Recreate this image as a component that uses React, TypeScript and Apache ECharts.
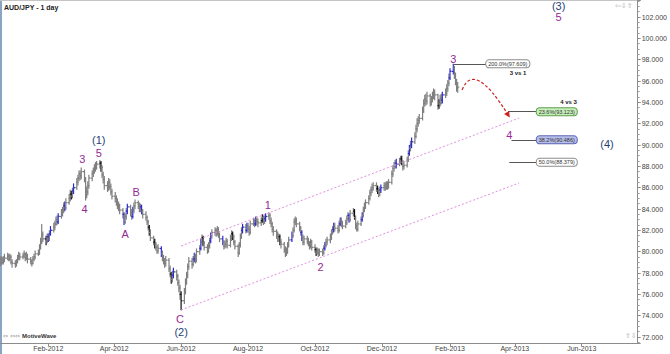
import React, { useEffect, useRef } from "react";
import * as echarts from "echarts";

// ---------- data ----------
const AXIS_START = "2011-12-19";
const AXIS_END = "2013-07-22";
const FIRST_BAR = "2011-12-19";
const FIRST_OPEN = 79.2;
const Y_MIN = 71.4375;
const Y_MAX = 103.594;

const closes = [
  78.9, 79.3, 79.0, 79.2, 79.4, 79.6, 79.3, 79.5, 79.0, 78.9,
  78.8, 79.0, 79.4, 79.6, 79.5, 79.6, 79.8, 79.4, 79.7, 79.3,
  79.1, 78.9, 79.3, 79.5, 79.8, 79.9, 80.4, 80.9, 81.6, 81.2,
  81.0, 81.4, 81.2, 81.7, 82.0, 82.3, 82.6, 83.0, 82.8, 83.3,
  83.6, 83.9, 84.3, 84.1, 84.6, 85.0, 85.4, 85.2, 85.7, 86.0,
  86.5, 86.9, 87.3, 87.1, 87.5, 86.8, 85.3, 85.6, 86.2, 86.9,
  87.3, 87.6, 87.8, 88.0, 88.2, 88.3, 87.9, 87.2, 86.8, 86.2,
  86.0, 86.5, 86.1, 85.6, 85.2, 85.0, 84.7, 84.4, 84.2, 83.9,
  83.5, 82.8, 83.3, 83.8, 84.2, 83.6, 83.3, 83.9, 84.3, 84.6,
  84.4, 84.0, 84.2, 83.8, 83.5, 83.2, 82.8, 82.3, 81.8, 81.3,
  80.9, 80.7, 80.4, 80.1, 80.3, 79.8, 79.4, 79.1, 78.9, 79.2,
  78.4, 77.9, 77.4, 77.8, 78.1, 77.7, 77.1, 76.6, 76.0, 75.4,
  76.3, 77.2, 77.8, 78.6, 79.1, 78.8, 79.3, 79.6, 79.2, 80.0,
  80.3, 80.9, 81.3, 80.8, 80.4, 80.1, 80.6, 81.0, 81.5, 81.8,
  82.0, 81.7, 82.1, 81.6, 81.2, 80.9, 80.5, 80.7, 81.0, 80.6,
  81.3, 81.7, 81.4, 80.9, 80.5, 79.9, 80.6, 81.4, 82.0, 82.3,
  82.0, 82.4, 82.1, 81.8, 82.6, 82.9, 82.6, 83.0, 82.8, 82.7,
  82.9, 83.2, 82.8, 83.1, 83.3, 83.4, 82.9, 82.6, 82.1, 81.9,
  81.6, 81.2, 81.4, 80.9, 80.7, 80.2, 79.8, 80.0, 80.6, 81.1,
  81.5, 82.0, 82.8, 83.0, 82.6, 82.2, 81.8, 81.3, 80.9, 81.2,
  81.0, 80.8, 80.5, 80.9, 80.4, 80.2, 79.9, 80.1, 79.8, 80.0,
  79.9, 80.3, 80.6, 80.9, 81.1, 81.3, 81.8, 82.1, 82.4, 82.2,
  82.0, 82.6, 82.9, 82.6, 82.4, 82.7, 83.1, 83.4, 83.0, 83.6,
  83.8, 83.2, 82.4, 82.1, 82.6, 83.0, 83.4, 83.9, 84.3, 84.6,
  85.0, 85.5, 85.8, 86.0, 86.2, 85.9, 85.7, 85.5, 85.8, 86.0,
  86.2, 86.0, 86.3, 86.1, 86.5, 87.3, 87.8, 88.0, 88.3, 88.2,
  88.5, 88.7, 88.4, 88.0, 88.1, 88.6, 89.2, 89.7, 90.0, 90.3,
  90.8, 91.5, 92.0, 92.3, 92.5, 93.2, 93.9, 94.3, 94.1, 94.6,
  94.0, 94.3, 94.6, 94.9, 94.7, 93.7, 93.9, 94.4, 94.2, 94.7,
  94.9, 95.3, 95.8, 96.3, 96.9, 97.2, 96.5, 95.9, 95.3, 95.415,
];

const highs = [
  79.5, 79.6, 79.5, 79.6, 79.8, 79.9, 79.8, 79.8, 79.7, 79.3,
  79.2, 79.3, 79.7, 80.0, 79.9, 79.9, 80.1, 79.9, 80.0, 79.8,
  79.5, 79.3, 79.6, 79.8, 80.1, 80.2, 80.7, 81.3, 82.6, 81.9,
  81.5, 81.7, 81.7, 82.0, 82.4, 82.7, 82.9, 83.3, 83.4, 83.6,
  84.0, 84.2, 84.6, 84.7, 85.0, 85.4, 85.8, 85.7, 86.0, 86.4,
  86.9, 87.2, 87.6, 87.6, 87.9, 87.7, 87.0, 86.1, 86.6, 87.2,
  87.6, 87.9, 88.2, 88.4, 88.5, 88.6, 88.5, 88.1, 87.5, 87.1,
  86.6, 86.9, 86.8, 86.4, 85.9, 85.6, 85.3, 85.0, 84.7, 84.5,
  84.1, 83.7, 83.6, 84.1, 84.5, 84.4, 84.0, 84.2, 84.6, 84.9,
  84.8, 84.6, 84.5, 84.4, 84.0, 83.8, 83.4, 83.0, 82.5, 82.1,
  81.5, 81.2, 80.9, 80.6, 80.7, 80.5, 80.1, 79.7, 79.4, 79.6,
  79.4, 78.7, 78.1, 78.2, 78.5, 78.3, 77.9, 77.4, 76.9, 76.3,
  76.6, 77.5, 78.1, 78.9, 79.5, 79.4, 79.6, 79.9, 79.8, 80.3,
  80.6, 81.2, 81.6, 81.5, 81.0, 80.7, 80.9, 81.3, 81.8, 82.1,
  82.3, 82.2, 82.4, 82.3, 81.8, 81.5, 81.1, 81.0, 81.3, 81.2,
  81.6, 82.0, 81.9, 81.6, 81.1, 80.7, 80.9, 81.7, 82.3, 82.6,
  82.6, 82.7, 82.7, 82.4, 82.9, 83.2, 83.1, 83.3, 83.3, 83.1,
  83.2, 83.5, 83.4, 83.4, 83.6, 83.7, 83.6, 83.2, 82.8, 82.4,
  82.1, 81.9, 81.7, 81.6, 81.2, 80.9, 80.5, 80.4, 80.9, 81.4,
  81.9, 82.3, 83.1, 83.3, 83.2, 82.8, 82.4, 82.0, 81.6, 81.5,
  81.5, 81.3, 81.0, 81.2, 81.1, 80.7, 80.4, 80.4, 80.3, 80.3,
  80.3, 80.6, 80.9, 81.2, 81.4, 81.7, 82.1, 82.4, 82.7, 82.7,
  82.5, 82.9, 83.2, 83.2, 82.9, 83.0, 83.4, 83.7, 83.6, 83.9,
  84.1, 84.0, 83.4, 82.7, 82.9, 83.3, 83.7, 84.2, 84.6, 84.9,
  85.3, 85.8, 86.1, 86.4, 86.5, 86.5, 86.2, 86.0, 86.1, 86.3,
  86.5, 86.5, 86.6, 86.6, 86.8, 87.6, 88.1, 88.4, 88.6, 88.7,
  88.8, 89.0, 89.0, 88.6, 88.5, 88.9, 89.5, 90.0, 90.4, 90.7,
  91.2, 91.9, 92.5, 92.7, 92.9, 93.6, 94.3, 94.7, 94.8, 95.0,
  94.8, 94.6, 95.0, 95.3, 95.2, 94.8, 94.3, 94.7, 94.8, 95.0,
  95.3, 95.7, 96.1, 96.7, 97.2, 97.609, 97.4, 96.8, 96.2, 95.9,
];

const lows = [
  78.6, 78.7, 78.8, 78.8, 79.0, 79.2, 79.1, 79.1, 78.8, 78.5,
  78.5, 78.6, 78.9, 79.2, 79.2, 79.3, 79.4, 79.1, 79.2, 78.9,
  78.8, 78.6, 78.8, 79.1, 79.3, 79.6, 79.7, 80.2, 80.7, 80.9,
  80.6, 80.8, 80.9, 81.0, 81.5, 81.8, 82.0, 82.4, 82.5, 82.6,
  83.1, 83.3, 83.6, 83.8, 83.9, 84.4, 84.7, 84.9, 85.0, 85.4,
  85.8, 86.2, 86.6, 86.7, 86.8, 86.5, 84.8, 85.0, 85.3, 85.9,
  86.6, 87.0, 87.3, 87.5, 87.7, 87.8, 87.5, 86.9, 86.4, 85.8,
  85.6, 85.7, 85.8, 85.3, 84.9, 84.6, 84.3, 84.0, 83.8, 83.5,
  83.1, 82.5, 82.6, 83.0, 83.5, 83.3, 83.0, 83.1, 83.6, 84.0,
  84.0, 83.7, 83.7, 83.5, 83.1, 82.9, 82.5, 82.0, 81.5, 81.0,
  80.6, 80.3, 80.1, 79.8, 79.8, 79.5, 79.1, 78.8, 78.5, 78.6,
  78.1, 77.6, 77.0, 77.1, 77.5, 77.3, 76.8, 76.2, 75.5, 74.5,
  75.1, 76.0, 76.9, 77.5, 78.3, 78.4, 78.6, 79.0, 78.9, 79.0,
  79.7, 80.1, 80.6, 80.5, 80.1, 79.8, 79.9, 80.3, 80.8, 81.2,
  81.5, 81.4, 81.5, 81.3, 80.9, 80.6, 80.2, 80.3, 80.4, 80.3,
  80.4, 81.0, 81.1, 80.6, 80.2, 79.5, 79.7, 80.4, 81.2, 81.7,
  81.7, 81.8, 81.8, 81.5, 81.6, 82.4, 82.3, 82.4, 82.5, 82.3,
  82.4, 82.7, 82.5, 82.6, 82.8, 83.0, 82.6, 82.3, 81.8, 81.5,
  81.2, 80.9, 80.9, 80.6, 80.3, 79.9, 79.5, 79.6, 79.8, 80.4,
  80.9, 81.3, 81.8, 82.5, 82.3, 81.9, 81.5, 81.0, 80.6, 80.6,
  80.7, 80.5, 80.2, 80.3, 80.1, 79.9, 79.6, 79.7, 79.5, 79.6,
  79.6, 79.7, 80.1, 80.4, 80.6, 80.8, 81.1, 81.6, 81.8, 81.9,
  81.7, 81.8, 82.4, 82.3, 82.1, 82.2, 82.5, 82.9, 82.7, 82.8,
  83.3, 83.0, 82.1, 81.9, 81.9, 82.4, 82.8, 83.2, 83.7, 84.0,
  84.4, 84.8, 85.2, 85.5, 85.7, 85.6, 85.4, 85.1, 85.2, 85.5,
  85.7, 85.7, 85.8, 85.8, 85.9, 86.3, 87.0, 87.5, 87.8, 87.8,
  88.0, 88.2, 88.1, 87.6, 87.7, 87.9, 88.4, 89.0, 89.4, 89.7,
  90.1, 90.6, 91.2, 91.7, 92.0, 92.3, 93.0, 93.6, 93.7, 93.8,
  93.6, 93.7, 94.0, 94.3, 94.2, 93.3, 93.4, 93.6, 93.8, 93.9,
  94.4, 94.6, 95.0, 95.5, 96.1, 96.6, 96.2, 95.6, 95.0, 94.9,
];

// bars shown in blue / black (index into the bar list)
const blueBars = [32, 34, 39, 43, 49, 81, 84, 87, 93, 105, 114, 127, 131, 138, 145, 159, 161, 167, 174, 190, 197, 212, 218, 222, 228, 236, 249, 259, 267, 269, 289, 294, 295];
const blackBars = [30, 47, 66, 98, 101, 112, 119, 133, 152, 171, 183, 206, 231, 246, 262, 286];

const waveLabels = [
  { date: "2012-03-18", price: 90.47, text: "(1)", degree: "intermediate" },
  { date: "2012-03-18", price: 89.25, text: "5", degree: "minor" },
  { date: "2012-03-03", price: 88.69, text: "3", degree: "minor" },
  { date: "2012-03-05", price: 84.0, text: "4", degree: "minor" },
  { date: "2012-04-11", price: 81.66, text: "A", degree: "minor" },
  { date: "2012-04-21", price: 85.6, text: "B", degree: "minor" },
  { date: "2012-05-31", price: 73.69, text: "C", degree: "minor" },
  { date: "2012-06-01", price: 72.47, text: "(2)", degree: "intermediate" },
  { date: "2012-08-19", price: 84.38, text: "1", degree: "minor" },
  { date: "2012-10-06", price: 78.56, text: "2", degree: "minor" },
  { date: "2013-02-04", price: 98.06, text: "3", degree: "minor" },
  { date: "2013-05-11", price: 103.03, text: "(3)", degree: "intermediate" },
  { date: "2013-05-11", price: 102.0, text: "5", degree: "minor" },
  { date: "2013-03-27", price: 90.94, text: "4", degree: "minor" },
  { date: "2013-06-24", price: 90.1, text: "(4)", degree: "intermediate" },
];

const noteLabels = [
  { date: "2013-04-04", price: 96.75, text: "3 vs 1" },
  { date: "2013-05-20", price: 94.03, text: "4 vs 3" },
];

const fibLevels = [
  { ratio: "200.0%", price: 97.609, from: "2013-02-04", to: "2013-03-06", kind: "plain" },
  { ratio: "23.6%", price: 93.123, from: "2013-03-26", to: "2013-04-21", kind: "green" },
  { ratio: "38.2%", price: 90.486, from: "2013-03-29", to: "2013-04-21", kind: "blue" },
  { ratio: "50.0%", price: 88.379, from: "2013-03-27", to: "2013-04-21", kind: "plain" },
];

const channelLines = [
  { from: { date: "2012-06-01", price: 80.53 }, to: { date: "2013-04-05", price: 92.53 } },
  { from: { date: "2012-06-01", price: 74.53 }, to: { date: "2013-04-05", price: 86.44 } },
];

const projectionArc = [
  { date: "2013-02-12", price: 95.16 },
  { date: "2013-02-23", price: 97.97 },
  { date: "2013-03-26", price: 92.81 },
];

const priceMarkers = [
  { price: 96.472, kind: "blue" },
  { price: 95.415, kind: "red" },
];

// ---------- helpers ----------
const FONT = '"Liberation Sans", Arial, sans-serif';
const MONTHS = ["Jan", "Feb", "Mar", "Apr", "May", "Jun", "Jul", "Aug", "Sep", "Oct", "Nov", "Dec"];
const DAY_MS = 86400000;
const parseDay = (s: string) => {
  const [y, m, d] = s.split("-").map(Number);
  return Date.UTC(y, m - 1, d);
};
const isoDay = (t: number) => new Date(t).toISOString().slice(0, 10);

const axisDays: string[] = [];
for (let t = parseDay(AXIS_START); t <= parseDay(AXIS_END); t += DAY_MS) axisDays.push(isoDay(t));
const dayIndex: Record<string, number> = {};
axisDays.forEach((d, i) => (dayIndex[d] = i));

const barDays: string[] = [];
{
  let t = parseDay(FIRST_BAR);
  while (barDays.length < closes.length) {
    const wd = new Date(t).getUTCDay();
    if (wd !== 0 && wd !== 6) barDays.push(isoDay(t));
    t += DAY_MS;
  }
}

const isMonthTick = (v: string) => v.endsWith("-01") && Number(v.slice(5, 7)) % 2 === 0;
const monthLabel = (v: string) => `${MONTHS[Number(v.slice(5, 7)) - 1]}-${v.slice(0, 4)}`;

const GRAY = "#7f7f7f";
const BLUE = "#2b2bd6";
const BLACK = "#111111";
const PURPLE = "#952a95";
const NAVY = "#1f3f78";
const CLEAR = "rgba(0,0,0,0)";

const degreeStyle: Record<string, any> = {
  intermediate: { color: NAVY, fontSize: 11 },
  minor: { color: PURPLE, fontSize: 11 },
};
const fibStyle: Record<string, any> = {
  plain: { backgroundColor: "#ffffff", borderColor: "#8c8c8c" },
  green: { backgroundColor: "#c6eeb9", borderColor: "#5f9f4f" },
  blue: { backgroundColor: "#b6bdea", borderColor: "#5c66b3" },
};
const markerStyle: Record<string, any> = {
  blue: { backgroundColor: "#cfe0f3", borderColor: "#7f9fc7" },
  red: { backgroundColor: "#ffffff", borderColor: "#d66a6a" },
};

export default function App() {
  const ref = useRef<HTMLDivElement>(null);

  useEffect(() => {
    if (!ref.current) return;
    const chart = echarts.init(ref.current, undefined, { renderer: "svg" });

    const barData = closes.map((c, i) => [
      barDays[i],
      i === 0 ? FIRST_OPEN : closes[i - 1],
      highs[i],
      lows[i],
      c,
      blueBars.includes(i) ? 1 : blackBars.includes(i) ? 2 : 0,
    ]);

    const option: any = {
      animation: false,
      textStyle: { fontFamily: FONT },
      grid: { left: 0, right: 29, top: 0, bottom: 11, containLabel: false },
      xAxis: {
        type: "category",
        data: axisDays,
        boundaryGap: false,
        axisLine: { lineStyle: { color: "#8c8c8c" } },
        axisTick: { interval: (_i: number, v: string) => isMonthTick(v), length: 3, lineStyle: { color: "#8c8c8c" } },
        axisLabel: {
          interval: (_i: number, v: string) => isMonthTick(v),
          formatter: (v: string) => monthLabel(v),
          fontSize: 7,
          color: "#444",
          margin: 2,
          fontFamily: FONT,
        },
        splitLine: { show: false },
      },
      yAxis: {
        type: "value",
        position: "right",
        min: Y_MIN,
        max: Y_MAX,
        splitNumber: 16,
        axisLine: { show: true, lineStyle: { color: "#8c8c8c" } },
        axisTick: { show: true, length: 3, lineStyle: { color: "#8c8c8c" } },
        minorTick: { show: true, splitNumber: 4, length: 2, lineStyle: { color: "#a0a0a0" } },
        axisLabel: {
          fontSize: 7,
          color: "#444",
          margin: 4,
          fontFamily: FONT,
          showMinLabel: false,
          showMaxLabel: false,
          formatter: (v: number) => {
            const r = Math.round(v);
            return Math.abs(v - r) < 1e-6 && r % 2 === 0 ? r.toFixed(3) : "";
          },
        },
        splitLine: { show: false },
      },
      series: [
        {
          type: "custom",
          name: "AUD/JPY",
          data: barData,
          dimensions: ["date", "open", "high", "low", "close", "tone"],
          encode: { x: 0, y: [2, 3] },
          silent: true,
          renderItem: (_p: any, api: any) => {
            const x = api.value(0);
            const o = api.coord([x, api.value(1)]);
            const h = api.coord([x, api.value(2)]);
            const l = api.coord([x, api.value(3)]);
            const c = api.coord([x, api.value(4)]);
            const tone = api.value(5);
            const stroke = tone === 1 ? BLUE : tone === 2 ? BLACK : GRAY;
            const style = { stroke, lineWidth: 1.2 };
            return {
              type: "group",
              children: [
                { type: "line", shape: { x1: h[0], y1: h[1], x2: l[0], y2: l[1] }, style },
                { type: "line", shape: { x1: o[0] - 1.5, y1: o[1], x2: o[0], y2: o[1] }, style },
                { type: "line", shape: { x1: c[0], y1: c[1], x2: c[0] + 1.5, y2: c[1] }, style },
              ],
            };
          },
          z: 3,
        },
        {
          type: "scatter",
          name: "waves",
          symbolSize: 1,
          itemStyle: { color: CLEAR, opacity: 1 },
          silent: true,
          z: 5,
          data: waveLabels.map((w) => ({
            value: [w.date, w.price],
            label: {
              show: true,
              position: "inside",
              formatter: w.text,
              fontFamily: FONT,
              textBorderWidth: 0,
              ...degreeStyle[w.degree],
            },
          })),
          markLine: {
            silent: true,
            symbol: ["none", "none"],
            animation: false,
            data: [
              ...channelLines.map((c) => [
                {
                  coord: [c.from.date, c.from.price],
                  lineStyle: { color: "#e090e0", width: 1, type: [2, 2] },
                  label: { show: false },
                },
                { coord: [c.to.date, c.to.price] },
              ]),
              ...fibLevels.map((f) => [
                {
                  coord: [f.from, f.price],
                  lineStyle: { color: "#555", width: 1, type: "solid" },
                  label: {
                    show: true,
                    position: "end",
                    distance: 0,
                    formatter: `${f.ratio}(${f.price.toFixed(3)})`,
                    fontSize: 5.5,
                    color: "#333",
                    fontFamily: FONT,
                    borderWidth: 1,
                    borderRadius: 3,
                    padding: [1, 2, 0, 2],
                    ...fibStyle[f.kind],
                  },
                },
                { coord: [f.to, f.price] },
              ]),
              ...priceMarkers.map((m) => ({
                yAxis: m.price,
                lineStyle: { opacity: 0 },
                label: {
                  show: true,
                  position: "end",
                  distance: 1,
                  formatter: m.price.toFixed(3),
                  fontSize: 7,
                  color: "#333",
                  fontFamily: FONT,
                  borderWidth: 1,
                  borderRadius: 2,
                  padding: [1, 2, 0, 2],
                  ...markerStyle[m.kind],
                },
              })),
            ],
          },
        },
        {
          type: "scatter",
          name: "notes",
          symbolSize: 1,
          itemStyle: { color: CLEAR, opacity: 1 },
          silent: true,
          z: 5,
          data: noteLabels.map((n) => ({
            value: [n.date, n.price],
            label: {
              show: true,
              position: "inside",
              formatter: n.text,
              fontFamily: FONT,
              fontWeight: "bold",
              fontSize: 6,
              color: "#222",
              textBorderWidth: 0,
            },
          })),
        },
        {
          type: "custom",
          name: "projection",
          data: [[projectionArc[0].date, projectionArc[0].price]],
          silent: true,
          z: 6,
          renderItem: (_p: any, api: any) => {
            const [s, cp, e] = projectionArc.map((p) => api.coord([dayIndex[p.date], p.price]));
            const dx = e[0] - cp[0];
            const dy = e[1] - cp[1];
            const len = Math.sqrt(dx * dx + dy * dy) || 1;
            const ux = dx / len;
            const uy = dy / len;
            const tip = [e[0] + ux * 3, e[1] + uy * 3];
            const base = [tip[0] - ux * 6, tip[1] - uy * 6];
            const px = -uy * 3;
            const py = ux * 3;
            return {
              type: "group",
              children: [
                {
                  type: "bezierCurve",
                  shape: { x1: s[0], y1: s[1], x2: e[0], y2: e[1], cpx1: cp[0], cpy1: cp[1] },
                  style: { stroke: "#cc2222", lineWidth: 1.2, lineDash: [3, 2], fill: "none" },
                },
                {
                  type: "polygon",
                  shape: {
                    points: [tip, [base[0] + px, base[1] + py], [base[0] - px, base[1] - py]],
                  },
                  style: { fill: "#cc2222", stroke: "none" },
                },
              ],
            };
          },
        },
      ],
      graphic: [
        { type: "rect", left: 0, top: 0, shape: { width: 2, height: 354 }, style: { fill: "#8aa4c4" }, silent: true },
        { type: "rect", left: 0, top: 0, shape: { width: 641, height: 1 }, style: { fill: "#c4c4c4" }, silent: true },
        {
          type: "text",
          left: 4,
          top: 4,
          style: { text: "AUD/JPY - 1 day", font: `bold 7px ${FONT}`, fill: "#222" },
          silent: true,
        },
        {
          type: "text",
          left: 3,
          top: 332,
          style: { text: "⇔ ⇔⇔", font: `6px "DejaVu Sans"`, fill: "#999" },
          silent: true,
        },
        {
          type: "text",
          left: 22,
          top: 333,
          style: { text: "MotiveWave", font: `bold 6px ${FONT}`, fill: "#333" },
          silent: true,
        },
        {
          type: "text",
          left: 615,
          top: 2,
          style: { text: "⇦⇩⇧", font: `7px "DejaVu Sans"`, fill: "#b0b0b0" },
          silent: true,
        },
        {
          type: "text",
          left: 625,
          top: 332,
          style: { text: "⇧⇩", font: `7px "DejaVu Sans"`, fill: "#b0b0b0" },
          silent: true,
        },
      ],
    };

    chart.setOption(option);
    return () => chart.dispose();
  }, []);

  return (
    <div
      ref={ref}
      style={{ position: "fixed", left: 0, top: 0, width: 670, height: 354, background: "#ffffff" }}
    />
  );
}
